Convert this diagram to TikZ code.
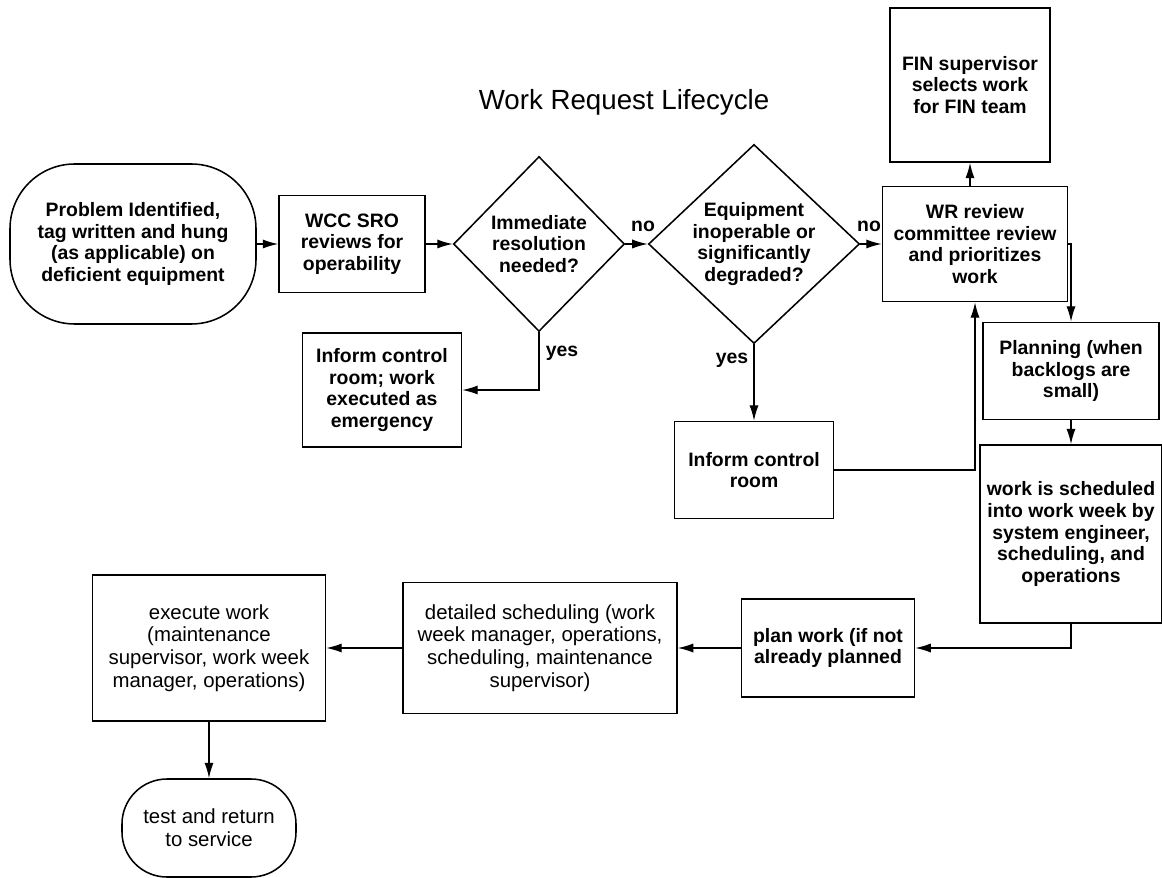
\documentclass[tikz,border=0pt]{standalone}
\usepackage{fontspec}
\setmainfont{Liberation Sans}
\usetikzlibrary{shapes.geometric,arrows.meta}
\newlength{\pxl}
\setlength{\pxl}{0.025cm}
\newcommand{\boldtxt}{\fontsize{13.8}{15.4}\selectfont\bfseries}
\newcommand{\normtxt}{\fontsize{14.5}{16.2}\selectfont}
\tikzset{
	proc/.style={draw, line width=1.1pt, align=center, inner sep=0pt, font=\boldtxt},
	thinproc/.style={proc, font=\normtxt},
	term/.style={proc, rounded corners=46pt},
	choice/.style={draw, diamond, aspect=1.06, line width=1.1pt, align=center, inner sep=0pt, font=\boldtxt},
	flow/.style={line width=1pt, -{Latex[length=11pt,width=6.5pt]}},
	tag/.style={font=\boldtxt, inner sep=0pt}
}

\begin{document}
\begin{tikzpicture}[x=\pxl, y=-\pxl]
		%%%%% START %%%%%
		\useasboundingbox (0, 0) rectangle (1162, 878);
		
		\node[font=\fontsize{19.7}{24}\selectfont, anchor=base] (title) at (624, 110) {Work Request Lifecycle};
		
		\node[term, minimum width=246\pxl, minimum height=160\pxl] (start) at (133, 244) {Problem Identified,\\ tag written and hung\\ (as applicable) on\\ deficient equipment};
		\node[proc, minimum width=146\pxl, minimum height=97\pxl] (wcc) at (352, 244) {WCC SRO\\ reviews for\\ operability};
		\node[choice, minimum width=171\pxl, minimum height=175\pxl] (d1) at (539, 244) {Immediate\\ resolution\\ needed?};
		\node[choice, minimum width=202\pxl, minimum height=191\pxl] (d2) at (754, 244) {Equipment\\ inoperable or\\ significantly\\ degraded?};
		\node[proc, minimum width=185\pxl, minimum height=115\pxl] (wr) at (975, 244) {WR review\\ committee review\\ and prioritizes\\ work};
		\node[proc, minimum width=160\pxl, minimum height=154\pxl] (fin) at (970, 85) {FIN supervisor\\ selects work\\ for FIN team};
		
		\node[proc, minimum width=176\pxl, minimum height=97\pxl] (plan1) at (1071, 371) {Planning (when\\ backlogs are\\ small)};
		\node[proc, minimum width=182\pxl, minimum height=178\pxl] (sched) at (1071, 534) {work is scheduled\\ into work week by\\ system engineer,\\ scheduling, and\\ operations};
		
		\node[proc, minimum width=159\pxl, minimum height=114\pxl] (inf1) at (382, 390) {Inform control\\ room; work\\ executed as\\ emergency};
		\node[proc, minimum width=159\pxl, minimum height=97\pxl] (inf2) at (754, 470) {Inform control\\ room};
		
		\node[proc, minimum width=173\pxl, minimum height=98\pxl] (planwork) at (828, 648) {plan work (if not\\ already planned};
		\node[thinproc, minimum width=274\pxl, minimum height=131\pxl] (detail) at (540, 648) {detailed scheduling (work\\ week manager, operations,\\ scheduling, maintenance\\ supervisor)};
		\node[thinproc, minimum width=233\pxl, minimum height=146\pxl] (exec) at (209, 648) {execute work\\ (maintenance\\ supervisor, work week\\ manager, operations)};
		\node[thinproc, rounded corners=32pt, minimum width=174\pxl, minimum height=98\pxl] (test) at (209, 828) {test and return\\ to service};
		
		% labels
		\node[tag] (no1) at (643, 226) {no};
		\node[tag] (no2) at (869, 226) {no};
		\node[tag] (yes1) at (562, 353) {yes};
		\node[tag] (yes2) at (732, 360) {yes};
		
		% connectors
		\draw[flow] (start) -- (wcc);
		\draw[flow] (wcc) -- (d1);
		\draw[flow] (d1) -- (d2);
		\draw[flow] (d2) -- (wr);
		\draw[flow] (wr.north -| fin.south) -- (fin.south);
		\draw[flow] (wr.east) -| (plan1.north);
		\draw[flow] (plan1) -- (sched);
		\draw[flow] (sched.south) |- (planwork.east);
		\draw[flow] (planwork) -- (detail);
		\draw[flow] (detail) -- (exec);
		\draw[flow] (exec) -- (test);
		\draw[flow] (d1.south) |- (inf1.east);
		\draw[flow] (d2) -- (inf2);
		\draw[flow] (inf2.east) -| (wr.south);
		
		%%%%% END %%%%%
	\end{tikzpicture}
\end{document}
